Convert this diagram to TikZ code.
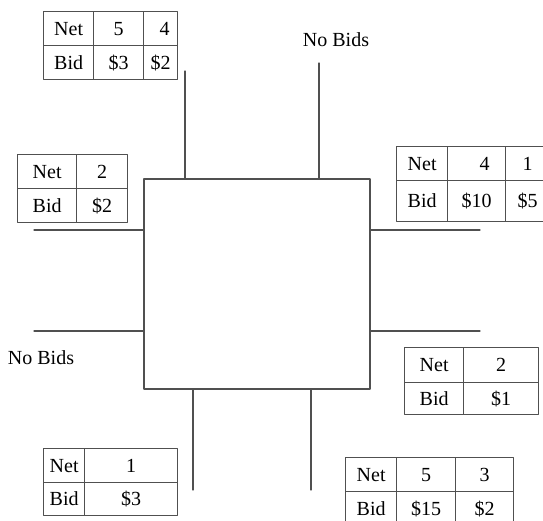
\documentclass[tikz,border=0pt]{standalone}
\usepackage{fontspec}
\setmainfont{Liberation Serif}
\definecolor{rule}{HTML}{505050}
\begin{document}
\begin{tikzpicture}[x=1pt,y=-1pt,line join=round,line cap=round,
	edge/.style={draw=rule,line width=1.3pt},
	cellbox/.style={draw=rule,line width=1.3pt,anchor=north west,inner sep=0pt,minimum height=34,
		font=\fontsize{20}{24}\selectfont},
	lbl/.style={font=\fontsize{20}{24}\selectfont,inner sep=0pt}]
	\useasboundingbox (0,0) rectangle (543,521);
	% centre square
	\node[edge,minimum width=226,minimum height=210,inner sep=0pt] (box) at (257,284) {};
	% free ends of the lines
	\coordinate (t1) at (185,71);
	\coordinate (t2) at (319,63);
	\coordinate (l1) at (34,230);
	\coordinate (l2) at (34,331);
	\coordinate (r1) at (480,230);
	\coordinate (r2) at (480,331);
	\coordinate (b1) at (193,490);
	\coordinate (b2) at (311,490);
	\draw[edge] (t1) -- (t1 |- box.north);
	\draw[edge] (t2) -- (t2 |- box.north);
	\draw[edge] (l1) -- (l1 -| box.west);
	\draw[edge] (l2) -- (l2 -| box.west);
	\draw[edge] (r1) -- (r1 -| box.east);
	\draw[edge] (r2) -- (r2 -| box.east);
	\draw[edge] (b1) -- (b1 |- box.south);
	\draw[edge] (b2) -- (b2 |- box.south);
	% labels
	\node[lbl] (nbtop) at (336,40) {No Bids};
	\node[lbl] (nbleft) at (41,358) {No Bids};
	% table top left
	\node[cellbox,minimum width=50] (a11) at (43,11) {Net};
	\node[cellbox,minimum width=50] (a12) at (93,11) {5};
	\node[cellbox,minimum width=34] (a13) at (143,11) {\hspace{8pt}4};
	\node[cellbox,minimum width=50] (a21) at (43,45) {Bid};
	\node[cellbox,minimum width=50] (a22) at (93,45) {\$3\hspace{12pt}};
	\node[cellbox,minimum width=34] (a23) at (143,45) {\$2};
	% table left
	\node[cellbox,minimum width=59] (b11) at (17,154) {Net};
	\node[cellbox,minimum width=51] (b12) at (76,154) {2};
	\node[cellbox,minimum width=59] (b21) at (17,188) {Bid};
	\node[cellbox,minimum width=51] (b22) at (76,188) {\$2\hspace{12pt}};
	% table right top
	\node[cellbox,minimum width=51] (c11) at (396,146) {Net};
	\node[cellbox,minimum width=58] (c12) at (447,146) {\hspace{16pt}4};
	\node[cellbox,minimum width=44] (c13) at (505,146) {1};
	\node[cellbox,minimum width=51,minimum height=41] (c21) at (396,180) {Bid};
	\node[cellbox,minimum width=58,minimum height=41] (c22) at (447,180) {\$10};
	\node[cellbox,minimum width=44,minimum height=41] (c23) at (505,180) {\$5\hspace{10pt}};
	% table right middle
	\node[cellbox,minimum width=59,minimum height=35] (d11) at (404,347) {Net};
	\node[cellbox,minimum width=75,minimum height=35] (d12) at (463,347) {2};
	\node[cellbox,minimum width=59,minimum height=32] (d21) at (404,382) {Bid};
	\node[cellbox,minimum width=75,minimum height=32] (d22) at (463,382) {\$1};
	% table bottom left
	\node[cellbox,minimum width=41] (e11) at (43,448) {Net};
	\node[cellbox,minimum width=93] (e12) at (84,448) {1};
	\node[cellbox,minimum width=41,minimum height=33] (e21) at (43,482) {Bid};
	\node[cellbox,minimum width=93,minimum height=33] (e22) at (84,482) {\$3};
	% table bottom right
	\node[cellbox,minimum width=51] (f11) at (345,457) {Net};
	\node[cellbox,minimum width=59] (f12) at (396,457) {5};
	\node[cellbox,minimum width=58] (f13) at (455,457) {3};
	\node[cellbox,minimum width=51] (f21) at (345,491) {Bid};
	\node[cellbox,minimum width=59] (f22) at (396,491) {\$15};
	\node[cellbox,minimum width=58] (f23) at (455,491) {\$2\hspace{10pt}};
\end{tikzpicture}
\end{document}
